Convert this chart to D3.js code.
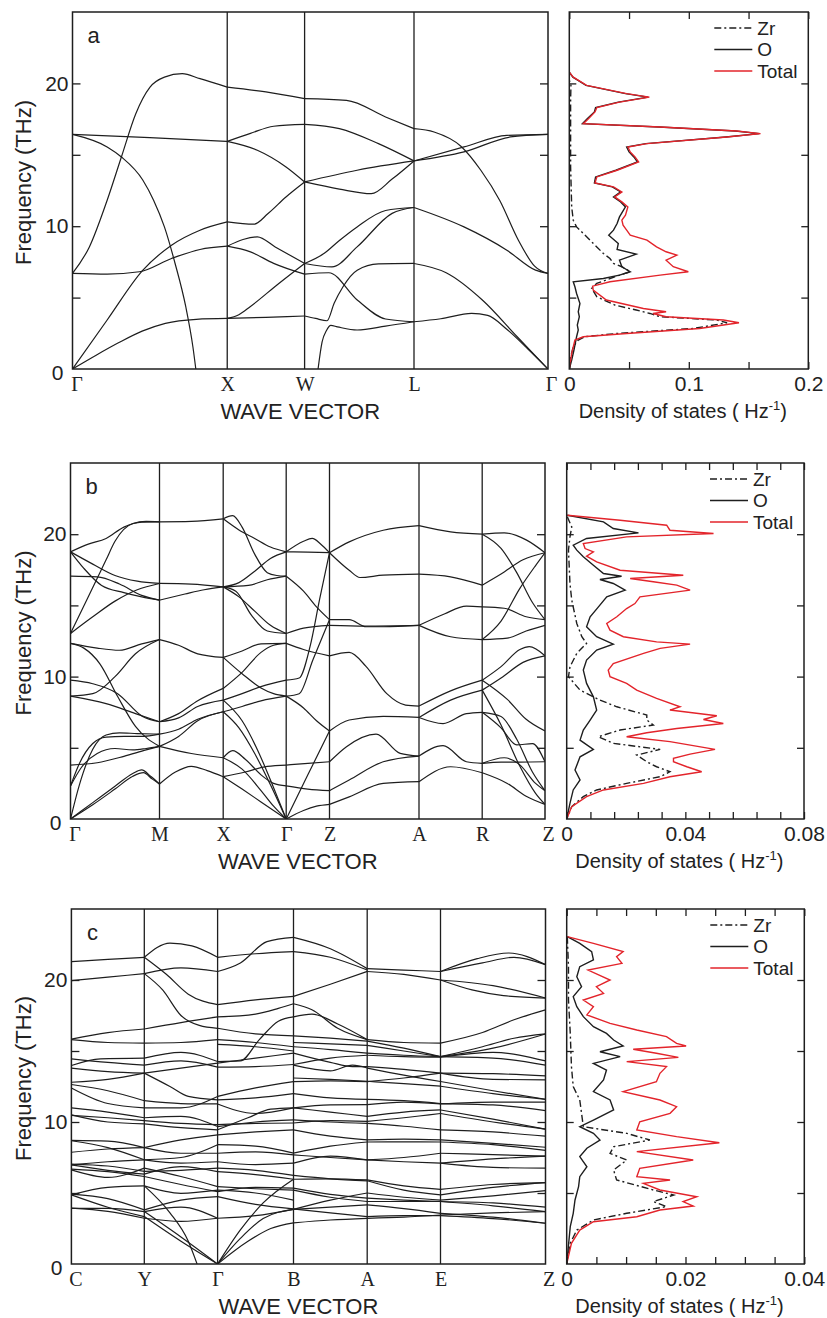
<!DOCTYPE html>
<html lang="en">
<head>
<meta charset="utf-8">
<title>ZrO2 phonon dispersion and DOS</title>
<script src="https://d3js.org/d3.v7.min.js"></script>
<style>
  body { margin: 0; background: #fff; }
  svg text { font-family: Arial, "Liberation Sans", sans-serif; fill: #222; }
  svg text.klab { font-family: "Times New Roman", "Liberation Serif", serif; }
</style>
</head>
<body>
<svg id="fig" width="827" height="1318"></svg>
<script>
// ---------- data ----------
// band points are [k, THz]; k counts high-symmetry segments (1.5 = halfway through segment 2)
const freqDomain = [0, 25];
const freqTicks = [5, 10, 15, 20];
const freqLabels = [10, 20];
const legendLabels = ["Zr", "O", "Total"];

const kLabelsA = ["Γ", "X", "W", "L", "Γ"];
const kDistA = [0, 1, 1.5, 2.207, 3.073];
const kLabelsB = ["Γ", "M", "X", "Γ", "Z", "A", "R", "Z"];
const kDistB = [0, 0.89, 1.527, 2.157, 2.59, 3.485, 4.117, 4.745];
const kLabelsC = ["C", "Y", "Γ", "B", "A", "E", "Z"];
const kDistC = [0, 0.729, 1.462, 2.221, 2.958, 3.691, 4.741];

const bandsA = [
  [[0,0],[0.15,0.95],[0.3,1.85],[0.45,2.65],[0.6,3.2],[0.8,3.48],[1,3.54]],
  [[0,0],[0.224,3.43],[0.455,6.92],[0.64,8.67],[0.824,9.72],[1,10.3]],
  [[0,6.69],[0.224,6.64],[0.432,6.81],[0.64,7.74],[0.824,8.37],[1,8.6]],
  [[0,6.69],[0.109,8.55],[0.224,11.82],[0.316,14.85],[0.409,17.88],[0.501,19.74],[0.594,20.44],[0.709,20.68],[0.824,20.33],[1,19.74]],
  [[0,16.43],[0.5,16.2],[1,15.94]],
  [[0,16.43],[0.224,15.55],[0.316,14.85],[0.455,13.22],[0.524,11.82],[0.594,9.95],[0.663,7.39],[0.732,4.36],[0.778,1.56],[0.797,0]],
  [[1,3.54],[1.5,3.62],[2,3.71]],
  [[1,3.54],[1.15,3.8],[1.296,4.36],[1.667,5.99],[2,7.39]],
  [[1,8.6],[1.204,9.07],[1.389,9.25],[1.62,8.55],[2,7.39]],
  [[1,8.6],[1.3,8.2],[1.6,7.4],[2,6.64]],
  [[1,10.3],[1.343,10.14],[1.528,10.89],[1.759,12.05],[2,13.1]],
  [[1,15.94],[1.3,16.5],[1.6,17.0],[2,17.13]],
  [[1,15.94],[1.389,15.32],[1.76,14.15],[2,13.1]],
  [[1,19.74],[1.5,19.4],[2,18.93]],
  [[2,3.71],[2.1,3.54],[2.205,3.38],[2.27,4.6],[2.351,5.76],[2.481,6.92],[2.675,7.36],[3,7.39]],
  [[2.123,0],[2.16,1.9],[2.2,2.7],[2.24,3.05],[2.3,2.95],[2.48,2.73],[2.74,3.0],[3,3.31]],
  [[2,6.64],[2.221,6.74],[2.481,4.83],[2.74,3.5],[3,3.31]],
  [[2,7.39],[2.25,7.15],[2.48,8.55],[2.8,10.9],[3,11.31]],
  [[2,7.39],[2.18,8.1],[2.318,9.0],[2.48,9.95],[2.74,11.1],[3,11.31]],
  [[2,13.1],[2.48,13.92],[3,14.57]],
  [[2,13.1],[2.318,12.6],[2.61,12.28],[2.8,13.3],[3,14.57]],
  [[2,17.13],[2.318,16.83],[2.675,15.78],[3,14.57]],
  [[2,18.93],[2.383,18.81],[2.74,17.65],[3,16.83]],
  [[3,3.31],[3.2,3.52],[3.43,3.89],[3.55,3.75],[3.69,2.8],[3.85,1.4],[4,0]],
  [[3,7.39],[3.24,6.74],[3.51,4.83],[3.77,2.26],[4,0]],
  [[3,11.31],[3.373,9.95],[3.693,8.32],[3.907,6.92],[4,6.69]],
  [[3,14.57],[3.373,15.2],[3.72,16.25],[4,16.43]],
  [[3,14.57],[3.373,15.55],[3.693,16.36],[4,16.43]],
  [[3,16.83],[3.15,16.6],[3.35,15.6],[3.5,13.9],[3.64,11.8],[3.78,9.0],[3.9,7.2],[4,6.69]]
];

const bandsB = [
  // Γ-M
  [[0,0],[0.25,1.15],[0.5,2.3],[0.7,3.2],[0.8,3.45],[0.9,3.0],[1,2.46]],
  [[0,0],[0.25,1.0],[0.5,2.1],[0.7,3.0],[0.82,3.25],[0.92,2.8],[1,2.46]],
  [[0,0],[0.1,2.4],[0.25,4.9],[0.4,5.9],[0.55,6.05],[0.75,6.0],[1,5.96]],
  [[0,2.32],[0.1,3.9],[0.25,5.3],[0.4,5.75],[0.6,5.8],[0.8,5.8],[1,5.96]],
  [[0,2.32],[0.12,3.6],[0.3,4.6],[0.5,4.95],[0.7,4.85],[0.85,4.95],[1,5.1]],
  [[0,3.79],[0.3,3.95],[0.6,4.4],[0.85,4.85],[1,5.1]],
  [[0,12.33],[0.15,12.0],[0.33,10.9],[0.53,8.6],[0.73,6.5],[1,5.1]],
  [[0,9.75],[0.25,9.5],[0.53,8.8],[0.81,7.2],[1,6.83]],
  [[0,8.63],[0.4,8.1],[0.73,7.4],[1,6.83]],
  [[0,8.63],[0.25,8.8],[0.5,10.0],[0.73,11.6],[1,12.6]],
  [[0,12.33],[0.3,12.0],[0.55,11.85],[0.8,12.3],[1,12.6]],
  [[0,13.03],[0.25,14.2],[0.5,15.3],[0.75,16.1],[1,16.54]],
  [[0,13.03],[0.2,15.6],[0.4,18.2],[0.5,19.5],[0.7,20.75],[0.85,20.9],[1,20.87]],
  [[0,17.05],[0.3,17.0],[0.55,16.5],[0.8,15.7],[1,15.37]],
  [[0,18.76],[0.25,17.9],[0.5,17.1],[0.75,16.7],[1,16.54]],
  [[0,18.76],[0.15,17.6],[0.35,16.4],[0.6,15.9],[0.8,15.6],[1,15.37]],
  [[0,18.76],[0.2,19.3],[0.4,19.7],[0.6,20.5],[0.8,20.85],[1,20.87]],
  // M-X
  [[1,2.46],[1.25,3.3],[1.5,3.7],[1.75,3.4],[2,2.97]],
  [[1,5.1],[1.5,4.6],[2,4.3]],
  [[1,5.1],[1.3,5.8],[1.6,6.9],[2,7.53]],
  [[1,5.96],[1.3,6.3],[1.6,7.0],[2,7.53]],
  [[1,6.83],[1.3,7.1],[1.6,7.9],[2,8.35]],
  [[1,6.83],[1.3,7.4],[1.6,8.3],[2,9.17]],
  [[1,12.6],[1.3,12.2],[1.6,11.6],[2,11.35]],
  [[1,16.54],[1.5,16.5],[2,16.3]],
  [[1,15.37],[1.4,15.8],[1.7,16.1],[2,16.3]],
  [[1,20.87],[1.5,20.9],[2,21.08]],
  // X-Γ
  [[2,21.08],[2.15,21.3],[2.3,20.5],[2.5,18.6],[2.7,17.3],[2.85,17.1],[3,17.05]],
  [[2,21.08],[2.25,20.3],[2.5,19.7],[2.75,19.1],[3,18.76]],
  [[2,16.3],[2.25,16.6],[2.5,17.4],[2.75,18.3],[3,18.76]],
  [[2,16.3],[2.25,15.6],[2.5,14.6],[2.75,13.6],[3,13.03]],
  [[2,16.3],[2.2,16.0],[2.45,14.3],[2.7,13.2],[3,13.03]],
  [[2,16.3],[2.4,16.4],[2.7,16.8],[3,17.05]],
  [[2,11.35],[2.3,11.8],[2.6,12.3],[3,12.33]],
  [[2,9.17],[2.3,10.3],[2.6,11.7],[2.8,12.2],[3,12.33]],
  [[2,11.35],[2.3,10.2],[2.6,9.2],[2.8,8.8],[3,8.63]],
  [[2,8.35],[2.3,8.8],[2.6,9.3],[3,9.75]],
  [[2,7.53],[2.3,7.9],[2.6,8.3],[3,8.63]],
  [[2,7.53],[2.25,6.4],[2.5,4.6],[2.75,2.4],[3,0]],
  [[2,4.3],[2.15,4.8],[2.35,4.2],[2.6,3.1],[2.8,2.5],[3,2.32]],
  [[2,2.97],[2.3,2.1],[2.6,1.2],[3,0]],
  [[2,2.97],[2.35,3.3],[2.7,3.7],[3,3.79]],
  [[2,8.35],[2.3,6.9],[2.55,4.8],[2.8,2.2],[3,0]],
  [[2,4.3],[2.3,3.5],[2.6,2.0],[2.8,0.9],[3,0]],
  // Γ-Z
  [[3,18.76],[3.5,18.74],[4,18.7]],
  [[3,18.76],[3.4,19.5],[3.6,19.7],[3.8,19.3],[4,18.7]],
  [[3,17.05],[3.4,16.0],[3.7,14.9],[4,14.0]],
  [[3,13.03],[3.4,13.4],[4,13.6]],
  [[3,12.33],[3.4,11.9],[4,11.46]],
  [[3,9.75],[3.3,9.9],[3.55,12.1],[3.77,15.4],[4,18.7]],
  [[3,8.63],[3.3,8.8],[3.62,11.2],[4,14.0]],
  [[3,8.63],[3.4,7.8],[3.7,6.9],[4,6.18]],
  [[3,0],[3.5,3.1],[4,6.18]],
  [[3,3.79],[3.5,3.9],[4,4.02]],
  [[3,2.32],[3.5,2.1],[4,1.99]],
  [[3,0],[3.4,0.6],[3.7,0.9],[4,1.03]],
  // Z-A
  [[4,18.7],[4.22,19.46],[4.6,20.28],[5,20.6]],
  [[4,18.7],[4.22,17.47],[4.34,16.96],[4.6,17.12],[5,17.19]],
  [[4,14.0],[4.22,14.0],[4.41,13.5],[4.6,13.5],[5,13.6]],
  [[4,13.6],[4.4,13.55],[5,13.6]],
  [[4,11.46],[4.22,11.7],[4.41,10.7],[4.64,8.8],[4.85,8.0],[5,7.93]],
  [[4,6.18],[4.22,6.95],[4.6,7.2],[5,7.13]],
  [[4,4.02],[4.19,5.08],[4.52,5.96],[4.79,4.61],[5,4.42]],
  [[4,1.99],[4.22,2.74],[4.6,4.02],[5,4.42]],
  [[4,1.03],[4.22,1.55],[4.6,2.5],[5,2.62]],
  // A-R
  [[5,20.6],[5.5,20.16],[6,20.0]],
  [[5,17.19],[5.5,17.0],[6,16.42]],
  [[5,13.6],[5.4,14.4],[5.75,14.95],[6,14.9]],
  [[5,13.6],[5.5,12.8],[6,12.6]],
  [[5,7.93],[5.5,9.0],[6,9.75]],
  [[5,7.13],[5.5,8.35],[6,9.05]],
  [[5,7.13],[5.38,6.7],[5.75,7.4],[6,7.49]],
  [[5,4.42],[5.38,5.15],[5.75,4.02],[6,3.91]],
  [[5,2.62],[5.5,3.67],[6,3.25]],
  // R-Z
  [[6,20.0],[6.35,20.1],[6.7,19.6],[7,18.7]],
  [[6,20.0],[6.3,19.0],[6.55,17.3],[6.8,15.2],[7,14.0]],
  [[6,16.42],[6.3,17.2],[6.65,18.2],[7,18.7]],
  [[6,14.9],[6.35,14.8],[6.7,14.2],[7,14.0]],
  [[6,12.6],[6.3,13.9],[6.6,16.2],[6.85,17.8],[7,18.7]],
  [[6,12.6],[6.4,12.7],[6.7,13.2],[7,13.6]],
  [[6,9.75],[6.3,10.7],[6.6,11.9],[6.75,12.1],[7,11.46]],
  [[6,9.05],[6.3,9.9],[6.65,11.0],[7,11.46]],
  [[6,9.75],[6.4,8.4],[6.7,7.0],[7,6.18]],
  [[6,7.49],[6.3,7.2],[6.55,5.6],[6.8,3.3],[7,1.99]],
  [[6,9.05],[6.3,6.6],[6.6,3.7],[6.85,1.8],[7,1.03]],
  [[6,7.49],[6.3,6.4],[6.55,5.2],[6.8,5.3],[7,4.02]],
  [[6,3.91],[6.3,4.0],[6.6,4.0],[7,4.02]],
  [[6,3.25],[6.4,2.5],[6.7,1.6],[7,1.03]],
  [[6,3.91],[6.35,4.3],[6.6,3.8],[6.85,2.5],[7,1.99]]
];

const bandsC = [
  // C-Y
  [[0,21.3],[0.5,21.45],[1,21.6]],
  [[0,19.95],[0.5,20.2],[1,20.45]],
  [[0,15.84],[0.5,16.3],[1,16.55]],
  [[0,15.8],[0.5,15.6],[1,15.56]],
  [[0,13.98],[0.4,14.45],[1,14.5]],
  [[0,14.45],[0.5,14.2],[1,14.0]],
  [[0,13.8],[0.5,13.55],[1,13.44]],
  [[0,12.8],[0.5,13.0],[1,13.44]],
  [[0,12.4],[0.5,11.3],[1,11.0]],
  [[0,12.64],[0.5,12.2],[1,11.5]],
  [[0,11.0],[0.5,10.7],[1,10.3]],
  [[0,10.5],[0.5,10.0],[1,9.87]],
  [[0,10.47],[0.5,10.3],[1,10.1]],
  [[0,8.7],[0.5,8.65],[1,8.2]],
  [[0,8.68],[0.5,8.2],[1,7.34]],
  [[0,7.87],[0.5,8.1],[1,8.2]],
  [[0,6.98],[0.5,7.2],[1,7.33]],
  [[0,6.98],[0.5,6.6],[1,6.33]],
  [[0,7.04],[0.5,6.9],[1,6.52]],
  [[0,6.63],[0.5,6.1],[1,6.75]],
  [[0,6.68],[0.5,6.5],[1,6.16]],
  [[0,4.87],[0.5,5.4],[1,5.5]],
  [[0,4.87],[0.5,4.0],[1,3.34]],
  [[0,4.92],[0.5,4.6],[1,3.81]],
  [[0,3.92],[0.5,3.92],[1,3.69]],
  [[0,3.93],[0.5,3.7],[1,3.22]],
  // Y-Γ
  [[1,21.6],[1.35,22.6],[1.65,22.4],[2,21.6]],
  [[1,21.6],[1.3,20.4],[1.6,19.0],[2,18.26]],
  [[1,20.45],[1.5,20.85],[2,20.6]],
  [[1,20.45],[1.25,19.3],[1.5,17.5],[1.75,16.8],[2,16.6]],
  [[1,16.55],[1.5,17.0],[2,17.4]],
  [[1,15.56],[1.5,15.6],[2,15.8]],
  [[1,14.5],[1.5,14.9],[2,14.26]],
  [[1,14.0],[1.5,14.3],[2,13.86]],
  [[1,13.44],[1.5,13.8],[2,14.15]],
  [[1,13.44],[1.35,12.5],[1.6,11.8],[2,11.56]],
  [[1,11.0],[1.5,11.0],[2,11.8]],
  [[1,11.5],[1.5,11.3],[2,11.27]],
  [[1,10.3],[1.5,10.4],[2,9.68]],
  [[1,10.1],[1.5,9.9],[2,9.81]],
  [[1,9.87],[1.5,9.6],[2,9.45]],
  [[1,8.2],[1.5,8.74],[2,9.1]],
  [[1,8.2],[1.5,7.8],[2,7.8]],
  [[1,7.34],[1.5,7.5],[2,8.4]],
  [[1,7.33],[1.5,7.1],[2,7.2]],
  [[1,6.75],[1.5,6.16],[2,5.45]],
  [[1,6.33],[1.5,6.86],[2,6.5]],
  [[1,6.52],[1.5,6.6],[2,6.75]],
  [[1,6.16],[1.5,5.6],[2,5.1]],
  [[1,5.5],[1.5,4.98],[2,5.2]],
  [[1,5.5],[1.35,3.6],[1.6,1.6],[1.72,0]],
  [[1,3.81],[1.5,4.5],[2,4.75]],
  [[1,3.69],[1.5,1.9],[2,0]],
  [[1,3.34],[1.5,1.6],[2,0]],
  [[1,3.69],[1.5,4.0],[2,3.22]],
  [[1,3.22],[1.5,3.0],[2,3.22]],
  // Γ-B
  [[2,21.6],[2.5,21.85],[3,22.0]],
  [[2,20.6],[2.3,21.2],[2.65,22.7],[3,23.0]],
  [[2,18.26],[2.5,18.6],[3,18.85]],
  [[2,17.4],[2.5,17.6],[2.8,18.0],[3,18.33]],
  [[2,16.6],[2.5,16.2],[3,16.07]],
  [[2,15.8],[2.5,15.6],[3,15.3]],
  [[2,15.46],[2.5,15.3],[3,15.0]],
  [[2,14.26],[2.3,14.3],[2.55,15.8],[2.8,17.1],[3,17.4]],
  [[2,14.15],[2.5,14.5],[3,14.85]],
  [[2,13.86],[2.5,13.9],[3,14.05]],
  [[2,11.56],[2.5,11.7],[3,12.0]],
  [[2,11.8],[2.5,12.4],[3,12.85]],
  [[2,11.27],[2.5,10.6],[3,10.99]],
  [[2,9.68],[2.5,10.0],[3,10.15]],
  [[2,9.81],[2.5,9.9],[3,9.93]],
  [[2,9.45],[2.4,10.3],[2.7,10.9],[3,11.0]],
  [[2,9.1],[2.5,9.3],[3,9.45]],
  [[2,8.4],[2.5,8.3],[3,7.81]],
  [[2,7.8],[2.5,7.9],[3,7.68]],
  [[2,7.2],[2.5,7.0],[3,7.1]],
  [[2,6.75],[2.5,6.6],[3,6.24]],
  [[2,6.5],[2.5,6.3],[3,5.97]],
  [[2,5.45],[2.5,5.3],[3,5.2]],
  [[2,5.1],[2.5,5.4],[3,5.34]],
  [[2,5.2],[2.5,5.0],[3,4.5]],
  [[2,4.75],[2.5,4.2],[3,3.88]],
  [[2,3.22],[2.5,3.4],[3,3.85]],
  [[2,0],[2.3,1.8],[2.6,3.2],[3,3.85]],
  [[2,0],[2.4,1.6],[2.7,2.5],[3,2.9]],
  [[2,0],[2.3,2.4],[2.6,4.3],[3,5.97]],
  // B-A
  [[3,22.0],[3.5,21.6],[4,20.7]],
  [[3,23.0],[3.5,22.2],[4,20.8]],
  [[3,18.85],[3.5,19.7],[4,20.6]],
  [[3,18.33],[3.25,17.9],[3.6,16.6],[4,15.8]],
  [[3,17.4],[3.25,17.6],[3.6,16.9],[4,15.8]],
  [[3,16.07],[3.5,15.9],[4,15.7]],
  [[3,15.6],[3.5,15.5],[4,15.4]],
  [[3,15.3],[3.5,15.1],[4,14.85]],
  [[3,14.85],[3.5,14.2],[3.8,13.9],[4,13.9]],
  [[3,14.05],[3.5,14.5],[4,14.7]],
  [[3,14.0],[3.5,13.6],[3.8,14.0],[4,13.8]],
  [[3,13.1],[3.5,13.0],[4,12.87]],
  [[3,12.85],[3.5,12.9],[4,12.85]],
  [[3,12.0],[3.5,11.7],[4,11.6]],
  [[3,10.99],[3.5,11.2],[4,11.22]],
  [[3,11.0],[3.5,10.7],[4,10.4]],
  [[3,10.15],[3.5,10.0],[4,9.9]],
  [[3,9.93],[3.5,10.1],[4,10.05]],
  [[3,9.45],[3.5,9.0],[4,8.74]],
  [[3,7.81],[3.5,8.3],[4,8.59]],
  [[3,7.68],[3.5,7.5],[4,7.33]],
  [[3,7.1],[3.5,7.6],[4,7.33]],
  [[3,6.24],[3.5,6.0],[4,5.86]],
  [[3,5.97],[3.5,6.0],[4,5.92]],
  [[3,5.34],[3.5,4.9],[4,4.64]],
  [[3,5.2],[3.5,4.7],[4,4.4]],
  [[3,3.85],[3.5,4.5],[4,5.0]],
  [[3,3.85],[3.5,4.0],[4,4.16]],
  [[3,3.88],[3.5,3.6],[4,3.34]],
  [[3,2.9],[3.5,3.1],[4,3.22]],
  // A-E
  [[4,20.8],[4.5,20.7],[5,20.6]],
  [[4,20.6],[4.5,20.4],[5,20.0]],
  [[4,15.8],[4.5,15.6],[5,15.56]],
  [[4,15.7],[4.5,15.2],[5,14.6]],
  [[4,15.4],[4.5,15.0],[5,14.6]],
  [[4,14.85],[4.5,14.7],[5,14.6]],
  [[4,14.7],[4.5,14.6],[5,14.56]],
  [[4,13.9],[4.5,13.7],[5,13.44]],
  [[4,13.8],[4.5,13.3],[5,12.85]],
  [[4,12.85],[4.5,13.1],[5,13.44]],
  [[4,12.87],[4.5,12.7],[5,12.52]],
  [[4,11.6],[4.5,11.5],[5,11.3]],
  [[4,11.22],[4.5,11.4],[5,11.27]],
  [[4,10.4],[4.5,10.7],[5,10.85]],
  [[4,10.05],[4.5,10.3],[5,10.6]],
  [[4,9.9],[4.5,9.7],[5,9.45]],
  [[4,8.74],[4.5,8.8],[5,8.74]],
  [[4,8.59],[4.5,8.6],[5,8.59]],
  [[4,7.33],[4.5,7.2],[5,7.1]],
  [[4,7.33],[4.5,7.5],[5,7.8]],
  [[4,5.92],[4.5,5.5],[5,5.26]],
  [[4,5.86],[4.5,5.2],[5,4.87]],
  [[4,5.0],[4.5,4.7],[5,4.5]],
  [[4,4.64],[4.5,4.5],[5,4.4]],
  [[4,4.4],[4.5,4.4],[5,4.4]],
  [[4,4.16],[4.5,3.9],[5,3.57]],
  [[4,3.34],[4.5,3.4],[5,3.41]],
  [[4,3.22],[4.5,3.3],[5,3.45]],
  // E-Z
  [[5,20.6],[5.35,21.5],[5.65,21.9],[6,21.08]],
  [[5,20.6],[5.4,21.2],[5.7,21.6],[6,21.08]],
  [[5,20.0],[5.5,19.6],[6,18.73]],
  [[5,20.0],[5.3,19.3],[5.6,18.9],[6,18.73]],
  [[5,15.56],[5.4,16.3],[5.7,17.2],[6,17.9]],
  [[5,14.6],[5.4,15.3],[5.7,15.9],[6,16.2]],
  [[5,14.6],[5.5,15.2],[6,16.2]],
  [[5,14.56],[5.5,14.9],[6,14.3]],
  [[5,14.6],[5.5,14.5],[6,14.0]],
  [[5,13.44],[5.5,13.4],[6,13.25]],
  [[5,13.44],[5.5,13.0],[6,12.97]],
  [[5,12.85],[5.5,12.2],[6,11.6]],
  [[5,12.52],[5.5,12.0],[6,11.6]],
  [[5,11.3],[5.5,11.2],[6,10.8]],
  [[5,11.27],[5.5,11.4],[6,11.4]],
  [[5,10.85],[5.5,10.2],[6,9.5]],
  [[5,10.6],[5.5,10.0],[6,9.5]],
  [[5,9.45],[5.5,9.3],[6,9.0]],
  [[5,8.74],[5.5,8.5],[6,8.22]],
  [[5,8.59],[5.5,8.4],[6,8.0]],
  [[5,7.8],[5.5,7.7],[6,7.6]],
  [[5,7.1],[5.5,6.8],[6,6.75]],
  [[5,7.1],[5.5,7.4],[6,7.6]],
  [[5,5.26],[5.5,5.6],[6,5.73]],
  [[5,4.87],[5.5,5.4],[6,5.73]],
  [[5,4.5],[5.5,4.8],[6,5.17]],
  [[5,4.4],[5.5,4.1],[6,3.69]],
  [[5,4.4],[5.5,4.3],[6,4.0]],
  [[5,3.57],[5.5,3.3],[6,2.87]],
  [[5,3.41],[5.5,3.2],[6,2.87]],
  [[5,3.45],[5.5,3.6],[6,3.69]]
];

// DOS points are [THz, states/Hz]
const dosTotA = [[0,0],[1.10,0.002],[2.03,0.0047],[2.26,0.0117],[2.49,0.048],[2.84,0.109],[3.24,0.142],[3.43,0.129],[3.66,0.081],[3.89,0.070],[4.01,0.081],[4.24,0.062],[4.83,0.031],[5.52,0.020],[5.80,0.0195],[6.11,0.034],[6.57,0.076],[6.81,0.0996],[7.16,0.087],[7.62,0.081],[7.97,0.090],[8.21,0.081],[8.55,0.073],[9.02,0.065],[9.37,0.051],[9.72,0.048],[10.07,0.045],[10.42,0.044],[10.77,0.047],[11.35,0.049],[11.70,0.044],[12.05,0.038],[12.40,0.044],[12.75,0.037],[13.03,0.0215],[13.45,0.023],[13.92,0.040],[14.50,0.058],[14.85,0.055],[15.20,0.051],[15.55,0.049],[15.78,0.065],[16.25,0.132],[16.48,0.160],[16.67,0.140],[16.95,0.076],[17.18,0.0117],[17.53,0.016],[18.0,0.0215],[18.30,0.023],[18.69,0.042],[19.04,0.067],[19.28,0.048],[19.86,0.0145],[20.44,0.0033],[20.79,0]];
const dosOA = [[0,0],[0.63,0.002],[1.33,0.0039],[2.26,0.0061],[2.73,0.0075],[3.08,0.0067],[3.66,0.0084],[4.01,0.0075],[4.59,0.0089],[5.29,0.0061],[5.76,0.0047],[6.11,0.0033],[6.34,0.0285],[6.57,0.042],[6.81,0.051],[7.16,0.044],[7.62,0.042],[8.04,0.056],[8.37,0.040],[8.79,0.041],[9.37,0.033],[9.72,0.037],[10.19,0.040],[10.65,0.042],[11.35,0.047],[11.70,0.043],[12.05,0.037],[12.40,0.043],[12.75,0.036],[13.03,0.021],[13.45,0.022],[13.92,0.039],[14.50,0.057],[14.85,0.054],[15.20,0.050],[15.55,0.048],[15.78,0.064],[16.25,0.131],[16.48,0.159],[16.67,0.139],[16.95,0.075],[17.18,0.011],[17.53,0.015],[18.0,0.021],[18.30,0.022],[18.69,0.041],[19.04,0.066],[19.28,0.047],[19.86,0.014],[20.44,0.003],[20.79,0]];
const dosZrA = [[0,0],[0.63,0.0006],[1.56,0.0033],[2.03,0.0075],[2.26,0.013],[2.49,0.040],[2.84,0.104],[3.24,0.132],[3.43,0.123],[3.66,0.076],[3.89,0.0675],[4.13,0.056],[4.48,0.038],[5.06,0.023],[5.64,0.0187],[5.99,0.023],[6.46,0.038],[6.81,0.051],[7.16,0.044],[7.39,0.037],[7.74,0.034],[8.09,0.0285],[8.55,0.023],[9.02,0.0173],[9.49,0.0117],[9.95,0.0061],[10.42,0.0033],[11.35,0.002],[14.15,0.0011],[18.81,0.0011],[19.98,0.0014],[20.21,0]];

const dosTotB = [[21.33,0.0002],[20.98,0.018],[20.63,0.0337],[20.28,0.0348],[20.05,0.0495],[19.81,0.0202],[19.35,0.0056],[18.99,0.0062],[18.76,0.009],[18.46,0.0067],[18.06,0.0101],[17.47,0.018],[17.12,0.0393],[16.89,0.0214],[16.66,0.0292],[16.42,0.0371],[16.07,0.0416],[15.60,0.0247],[15.13,0.023],[14.78,0.0202],[14.20,0.0169],[13.73,0.0135],[13.26,0.0146],[12.80,0.0191],[12.44,0.0303],[12.28,0.0416],[11.98,0.0315],[11.63,0.0259],[10.92,0.0157],[10.46,0.014],[9.99,0.0146],[9.52,0.0202],[9.05,0.0236],[8.47,0.0303],[7.88,0.0382],[7.65,0.0348],[7.25,0.0506],[6.99,0.0461],[6.71,0.0528],[6.36,0.0371],[6.06,0.027],[5.78,0.0202],[5.43,0.0348],[4.89,0.050],[4.56,0.0416],[4.26,0.036],[4.02,0.036],[3.67,0.0405],[3.32,0.0455],[2.97,0.0348],[2.50,0.0259],[2.04,0.0124],[1.57,0.0067],[0.87,0.0017],[0,0]];
const dosOB = [[21.33,0.0002],[20.87,0.0124],[20.40,0.0157],[20.09,0.0242],[19.70,0.0067],[19.23,0.0022],[18.88,0.0034],[18.41,0.0056],[17.82,0.009],[17.24,0.0124],[17.05,0.0185],[16.82,0.0112],[16.54,0.0157],[16.07,0.0197],[15.60,0.0135],[14.90,0.0107],[14.20,0.0079],[13.50,0.0067],[12.80,0.0101],[12.28,0.0157],[11.86,0.0101],[11.16,0.0067],[10.46,0.0056],[9.52,0.0067],[8.58,0.009],[7.65,0.0101],[6.95,0.0079],[6.25,0.0056],[5.54,0.0045],[4.89,0.009],[4.37,0.0045],[3.44,0.0028],[2.74,0.0045],[2.04,0.0022],[1.10,0.0011],[0,0]];
const dosZrB = [[21.22,0.0002],[20.51,0.0017],[19.81,0.0011],[18.88,0.0006],[16.54,0.0011],[15.37,0.0017],[13.73,0.0034],[12.80,0.0051],[12.33,0.0067],[11.63,0.0034],[10.69,0.0011],[9.99,0.0006],[9.05,0.0045],[8.35,0.0112],[7.88,0.0169],[7.30,0.027],[6.95,0.027],[6.60,0.0292],[6.25,0.018],[5.78,0.0107],[5.31,0.0157],[4.89,0.0315],[4.49,0.0236],[4.02,0.027],[3.67,0.0303],[3.32,0.0348],[2.97,0.0315],[2.50,0.0202],[2.04,0.0101],[1.57,0.0056],[0.87,0.0017],[0,0]];

const dosTotC = [[23.05,0.0001],[22.58,0.0045],[22.0,0.0095],[21.64,0.0084],[21.17,0.0093],[20.70,0.0036],[20.0,0.0073],[19.53,0.005],[19.06,0.0062],[18.59,0.0028],[18.12,0.0045],[17.54,0.0034],[16.95,0.0073],[16.48,0.0118],[16.01,0.0168],[15.54,0.0185],[15.35,0.0201],[15.12,0.0112],[14.84,0.0151],[14.55,0.0188],[14.25,0.0101],[13.90,0.0168],[13.43,0.0157],[12.84,0.0151],[12.14,0.0095],[11.55,0.0157],[11.08,0.0185],[10.61,0.0174],[10.02,0.0123],[9.44,0.0118],[8.97,0.0185],[8.54,0.0257],[7.91,0.0118],[7.32,0.0213],[6.74,0.0123],[6.15,0.0118],[5.92,0.0174],[5.68,0.0129],[5.21,0.0157],[4.74,0.0219],[4.39,0.0196],[4.08,0.0213],[3.80,0.0157],[3.33,0.0118],[2.98,0.0045],[2.39,0.0022],[1.46,0.0008],[0,0]];
const dosOC = [[23.05,0.0001],[22.58,0.0022],[22.0,0.0042],[21.41,0.0045],[20.94,0.0022],[20.23,0.0017],[19.53,0.0025],[18.83,0.0011],[18.12,0.0017],[17.42,0.0028],[16.71,0.0045],[16.24,0.0067],[15.77,0.0079],[15.35,0.0095],[14.95,0.0056],[14.60,0.009],[14.13,0.0045],[13.66,0.0067],[12.96,0.0062],[12.14,0.0045],[11.55,0.0073],[10.85,0.0079],[10.14,0.0045],[9.67,0.0022],[9.20,0.0045],[8.73,0.0056],[8.15,0.0034],[7.56,0.0022],[6.85,0.0034],[6.15,0.0022],[5.45,0.002],[4.51,0.0014],[3.57,0.0011],[2.63,0.0006],[0,0]];
const dosZrC = [[23.05,0.0001],[20.94,0.0003],[18.59,0.0003],[16.24,0.0006],[13.90,0.0008],[12.49,0.0011],[11.55,0.0022],[10.61,0.0025],[9.67,0.0028],[9.20,0.0101],[8.73,0.014],[8.26,0.0079],[7.79,0.0073],[7.32,0.0101],[6.62,0.0079],[5.92,0.0084],[5.21,0.0146],[4.86,0.018],[4.39,0.0146],[4.04,0.0168],[3.57,0.0101],[3.10,0.0045],[2.39,0.0017],[1.46,0.0006],[0,0]];

// ---------- layout ----------
const panels = [
  { letter: "a", top: 12, bottom: 369, dispL: 72.5, dispR: 548, dosL: 569.3, dosR: 808.3,
    kLabels: kLabelsA, kDist: kDistA, bands: bandsA,
    dosMax: 0.2, dosStep: 0.05, dosLabels: ["0", "0.1", "0.2"],
    zr: dosZrA, o: dosOA, tot: dosTotA },
  { letter: "b", top: 463, bottom: 819, dispL: 70.5, dispR: 545, dosL: 566.7, dosR: 804,
    kLabels: kLabelsB, kDist: kDistB, bands: bandsB,
    dosMax: 0.08, dosStep: 0.008, dosLabels: ["0", "0.04", "0.08"],
    zr: dosZrB, o: dosOB, tot: dosTotB },
  { letter: "c", top: 909, bottom: 1264, dispL: 71.4, dispR: 545.5, dosL: 566.7, dosR: 804.3,
    kLabels: kLabelsC, kDist: kDistC, bands: bandsC,
    dosMax: 0.04, dosStep: 0.005, dosLabels: ["0", "0.02", "0.04"],
    zr: dosZrC, o: dosOC, tot: dosTotC }
];

const INK = "#1e1e1e";
const RED = "#e3242b";
const svg = d3.select("#fig");

function styleAxis(g, size) {
  g.select(".domain").remove();
  g.selectAll("line").attr("stroke", INK).attr("stroke-width", 1.3);
  g.selectAll("text").attr("font-size", size).attr("fill", INK);
}

function drawPanel(p, idx) {
  const y = d3.scaleLinear().domain(freqDomain).range([p.bottom, p.top]);
  const n = p.kDist.length;
  const total = p.kDist[n - 1];
  const xk = d3.scaleLinear()
    .domain(d3.range(n))
    .range(p.kDist.map(d => p.dispL + d / total * (p.dispR - p.dispL)));

  svg.append("clipPath").attr("id", "clipd" + idx)
    .append("rect").attr("x", p.dispL).attr("y", p.top)
    .attr("width", p.dispR - p.dispL).attr("height", p.bottom - p.top);

  const band = d3.line().x(d => xk(d[0])).y(d => y(d[1])).curve(d3.curveMonotoneX);
  svg.append("g").attr("clip-path", "url(#clipd" + idx + ")")
    .selectAll("path").data(p.bands).join("path")
    .attr("d", band).attr("fill", "none").attr("stroke", INK).attr("stroke-width", 1.2);

  // high symmetry lines
  svg.append("g").selectAll("line").data(d3.range(1, n - 1)).join("line")
    .attr("x1", d => xk(d)).attr("x2", d => xk(d))
    .attr("y1", p.top).attr("y2", p.bottom)
    .attr("stroke", INK).attr("stroke-width", 1.3);

  // inner ticks, both sides
  styleAxis(svg.append("g").attr("transform", `translate(${p.dispL},0)`)
    .call(d3.axisLeft(y).tickValues(freqTicks).tickSize(-8).tickFormat("")), 21);
  styleAxis(svg.append("g").attr("transform", `translate(${p.dispR},0)`)
    .call(d3.axisRight(y).tickValues(freqTicks).tickSize(-8).tickFormat("")), 21);
  styleAxis(svg.append("g").attr("transform", `translate(${p.dispL},0)`)
    .call(d3.axisLeft(y).tickValues(freqLabels).tickSize(0).tickPadding(4)), 21);
  // the zero sits a little lower and further out, clear of the first k label
  const zero = svg.append("g").attr("transform", `translate(${p.dispL},4)`)
    .call(d3.axisLeft(y).tickValues([0]).tickSize(0).tickPadding(9));
  styleAxis(zero, 21);

  const kAxis = svg.append("g").attr("transform", `translate(0,${p.bottom})`)
    .call(d3.axisBottom(xk).tickValues(d3.range(n)).tickSize(0).tickPadding(8)
      .tickFormat(i => p.kLabels[i]));
  styleAxis(kAxis, 20);
  kAxis.selectAll("text").attr("class", "klab")
    .attr("dx", (d, i) => i === 0 ? 4 : (i === n - 1 ? 3 : 0));

  svg.append("rect").attr("x", p.dispL).attr("y", p.top)
    .attr("width", p.dispR - p.dispL).attr("height", p.bottom - p.top)
    .attr("fill", "none").attr("stroke", INK).attr("stroke-width", 1.5);

  svg.append("text").attr("x", p.dispL + 21).attr("y", p.top + 23)
    .attr("dy", "0.35em").attr("text-anchor", "middle").attr("font-size", 22)
    .text(p.letter);

  svg.append("text")
    .attr("transform", `translate(23,${(p.top + p.bottom) / 2 - 8}) rotate(-90)`)
    .attr("text-anchor", "middle").attr("dy", "0.35em").attr("font-size", 22)
    .text("Frequency (THz)");

  svg.append("text").attr("x", (p.dispL + p.dispR) / 2 - 10).attr("y", p.bottom + 50)
    .attr("text-anchor", "middle").attr("font-size", 22).text("WAVE VECTOR");

  // ---- density of states ----
  const xd = d3.scaleLinear().domain([0, p.dosMax]).range([p.dosL, p.dosR]);
  const minor = d3.range(0, p.dosMax + p.dosStep / 2, p.dosStep);

  svg.append("clipPath").attr("id", "clips" + idx)
    .append("rect").attr("x", p.dosL).attr("y", p.top)
    .attr("width", p.dosR - p.dosL).attr("height", p.bottom - p.top);

  const dline = d3.line().x(d => xd(d[1])).y(d => y(d[0]));
  const dg = svg.append("g").attr("clip-path", "url(#clips" + idx + ")");
  dg.append("path").attr("d", dline(p.zr)).attr("fill", "none")
    .attr("stroke", INK).attr("stroke-width", 1.4).attr("stroke-dasharray", "7,3,2,3");
  dg.append("path").attr("d", dline(p.o)).attr("fill", "none")
    .attr("stroke", INK).attr("stroke-width", 1.4);
  dg.append("path").attr("d", dline(p.tot)).attr("fill", "none")
    .attr("stroke", RED).attr("stroke-width", 1.4);

  styleAxis(svg.append("g").attr("transform", `translate(0,${p.bottom})`)
    .call(d3.axisBottom(xd).tickValues(minor).tickSize(-7).tickFormat("")), 21);
  styleAxis(svg.append("g").attr("transform", `translate(0,${p.top})`)
    .call(d3.axisTop(xd).tickValues(minor).tickSize(-7).tickFormat("")), 21);
  styleAxis(svg.append("g").attr("transform", `translate(${p.dosL},0)`)
    .call(d3.axisLeft(y).tickValues(freqTicks).tickSize(-7).tickFormat("")), 21);
  styleAxis(svg.append("g").attr("transform", `translate(${p.dosR},0)`)
    .call(d3.axisRight(y).tickValues(freqTicks).tickSize(-7).tickFormat("")), 21);
  styleAxis(svg.append("g").attr("transform", `translate(0,${p.bottom})`)
    .call(d3.axisBottom(xd).tickValues([0, p.dosMax / 2, p.dosMax]).tickSize(0).tickPadding(7)
      .tickFormat((d, i) => p.dosLabels[i])), 21);

  svg.append("rect").attr("x", p.dosL).attr("y", p.top)
    .attr("width", p.dosR - p.dosL).attr("height", p.bottom - p.top)
    .attr("fill", "none").attr("stroke", INK).attr("stroke-width", 1.5);

  const t = svg.append("text").attr("x", (p.dosL + p.dosR) / 2 - 6).attr("y", p.bottom + 49)
    .attr("text-anchor", "middle").attr("font-size", 20);
  t.append("tspan").text("Density of states ( Hz");
  t.append("tspan").attr("font-size", 13).attr("dy", -8).text("-1");
  t.append("tspan").attr("dy", 8).text(")");

  // legend
  const styles = [
    { stroke: INK, dash: "7,3,2,3" },
    { stroke: INK, dash: null },
    { stroke: RED, dash: null }
  ];
  legendLabels.forEach((lab, i) => {
    const ly = p.top + 16 + i * 21.5;
    svg.append("line").attr("x1", p.dosR - 94).attr("x2", p.dosR - 56)
      .attr("y1", ly).attr("y2", ly)
      .attr("stroke", styles[i].stroke).attr("stroke-width", 1.4)
      .attr("stroke-dasharray", styles[i].dash);
    svg.append("text").attr("x", p.dosR - 51).attr("y", ly).attr("dy", "0.35em")
      .attr("font-size", 19).text(lab);
  });
}

panels.forEach(drawPanel);
</script>
</body>
</html>
